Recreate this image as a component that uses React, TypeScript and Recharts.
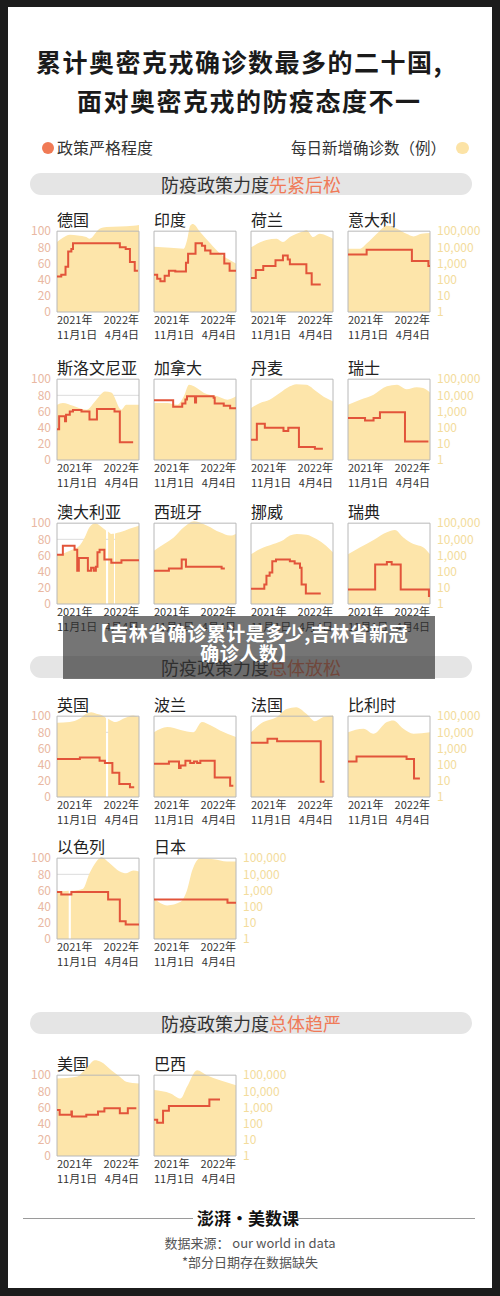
import React from 'react';
import { ComposedChart, Area, Line, XAxis, YAxis, ReferenceArea, CartesianGrid } from 'recharts';

type Pt = [number, number | null];

// ---------- axis ticks / labels ----------
const LEFT_TICKS = [0, 20, 40, 60, 80, 100];
const RIGHT_TICKS = [1, 10, 100, 1000, 10000, 100000];
const X_TICKS = [0, 154];
const X_TICK_LABELS: Record<number, string[]> = {
  0: ['2021年', '11月1日'],
  154: ['2022年', '4月4日'],
};

// ---------- data: [day since 2021-11-01, daily new cases] and [day, stringency] ----------
const DE_CASES: Pt[] = [[0, 21000], [11, 39000], [24, 60000], [39, 54000], [55, 43000], [61, 34000], [80, 140000], [93, 180000], [118, 193000], [143, 220000], [154, 245000]];
const DE_STR: Pt[] = [[0, 44], [8, 46], [16, 56], [21, 75], [27, 78], [30, 85], [118, 80], [129, 78], [137, 62], [146, 51], [152, 51]];

const IN_CASES: Pt[] = [[0, 11000], [31, 9500], [56, 8300], [62, 27000], [68, 220000], [73, 280000], [87, 87000], [106, 17000], [124, 4100], [140, 1800], [154, 1000]];
const IN_STR: Pt[] = [[0, 46], [6, 41], [12, 38], [20, 45], [28, 51], [40, 50], [60, 61], [64, 72], [78, 85], [90, 82], [96, 76], [106, 72], [132, 60], [142, 51], [154, 51]];

const NL_CASES: Pt[] = [[0, 10000], [29, 28000], [48, 34000], [60, 21000], [73, 43000], [98, 100000], [104, 120000], [117, 43000], [129, 68000], [141, 54000], [154, 34000]];
const NL_STR: Pt[] = [[0, 42], [9, 52], [23, 57], [46, 64], [60, 70], [69, 65], [73, 59], [104, 48], [114, 34], [131, 34]];

const IT_CASES: Pt[] = [[0, 8300], [23, 8300], [35, 17000], [54, 68000], [67, 176000], [73, 220000], [92, 140000], [110, 68000], [123, 47000], [138, 68000], [154, 76000]];
const IT_STR: Pt[] = [[0, 71], [35, 77], [120, 63], [151, 57], [154, 57]];

const SI_CASES: Pt[] = [[0, 2600], [11, 3400], [30, 2300], [55, 1300], [74, 5400], [90, 17500], [102, 15000], [121, 1300], [130, 2600], [154, 2600]];
const SI_STR: Pt[] = [[0, 38], [4, 54], [15, 48], [17, 56], [24, 60], [30, 62], [46, 60], [61, 50], [75, 63], [108, 60], [118, 22], [143, 22]];

const CA_CASES: Pt[] = [[0, 3400], [25, 3400], [44, 2600], [56, 8700], [66, 45000], [75, 36000], [94, 14000], [119, 8700], [138, 5400], [154, 8700]];
const CA_STR: Pt[] = [[0, 74], [36, 66], [53, 70], [59, 75], [62, 79], [77, 71], [79, 79], [112, 77], [114, 70], [131, 67], [143, 64], [154, 64]];

const DK_CASES: Pt[] = [[0, 1650], [17, 3400], [35, 5400], [54, 14000], [73, 36000], [85, 49000], [104, 45000], [123, 17500], [141, 6800], [154, 4200]];
const DK_STR: Pt[] = [[0, 25], [11, 45], [26, 40], [61, 36], [70, 40], [90, 16], [120, 14], [135, 14]];

const CH_CASES: Pt[] = [[0, 2600], [23, 5400], [48, 11000], [73, 36000], [92, 45000], [110, 24000], [129, 32000], [141, 28000], [154, 15000]];
const CH_STR: Pt[] = [[0, 52], [32, 49], [48, 52], [60, 59], [107, 23], [151, 23]];

const AU_CASES: Pt[] = [[0, 950], [24, 2000], [42, 4000], [52, 13000], [61, 56000], [72, 100000], [86, 51000], [92, 35000], [94, null], [96, 30000], [102, 21500], [107, 22000], [108, null], [109, 23000], [118, 27000], [136, 45000], [154, 70000]];
const AU_STR: Pt[] = [[0, 61], [11, 72], [33, 67], [38, 41], [41, 57], [58, 41], [64, 45], [69, 41], [73, 46], [76, 64], [80, 67], [89, 55], [102, 51], [121, 54], [154, 54]];

const ES_CASES: Pt[] = [[0, 2000], [19, 5100], [37, 13000], [56, 56000], [75, 133000], [100, 70000], [124, 27000], [143, 17000], [154, 21500]];
const ES_STR: Pt[] = [[0, 41], [28, 44], [52, 55], [60, 46], [127, 44], [133, 44]];

const NO_CASES: Pt[] = [[0, 1200], [17, 2500], [42, 5100], [61, 9100], [73, 17000], [86, 21500], [104, 19500], [123, 10500], [141, 4000], [154, 1550]];
const NO_STR: Pt[] = [[0, 19], [25, 24], [29, 35], [35, 39], [40, 53], [47, 55], [73, 53], [82, 50], [92, 45], [95, 24], [103, 13], [131, 13]];

const SE_CASES: Pt[] = [[0, 1200], [23, 3200], [48, 9000], [73, 27000], [88, 38000], [104, 13000], [123, 5100], [141, 3200], [154, 1200]];
const SE_STR: Pt[] = [[0, 18], [51, 49], [73, 52], [82, 49], [99, 18], [152, 10], [154, 10]];

const UK_CASES: Pt[] = [[0, 39000], [24, 43000], [42, 68000], [55, 140000], [64, 176000], [74, 140000], [90, 90000], [92, 75000], [94, null], [96, 70000], [111, 43000], [124, 68000], [143, 110000], [154, 87000]];
const UK_STR: Pt[] = [[0, 47], [43, 49], [80, 45], [90, 42], [104, 30], [117, 16], [137, 12], [145, 12]];

const PL_CASES: Pt[] = [[0, 10000], [25, 21000], [50, 14000], [74, 10000], [90, 43000], [106, 27000], [124, 13000], [154, 5100]];
const PL_STR: Pt[] = [[0, 41], [28, 44], [47, 36], [50, 39], [59, 45], [68, 42], [75, 44], [81, 42], [87, 45], [114, 24], [143, 14], [149, 14]];

const FR_CASES: Pt[] = [[0, 10000], [23, 43000], [48, 87000], [67, 280000], [85, 355000], [104, 140000], [120, 49000], [135, 87000], [154, 110000]];
const FR_STR: Pt[] = [[0, 67], [31, 72], [49, 69], [131, 19], [138, 19]];

const BE_CASES: Pt[] = [[0, 10000], [29, 16500], [48, 8100], [73, 43000], [85, 54000], [104, 16500], [123, 8100], [154, 10000]];
const BE_STR: Pt[] = [[0, 44], [16, 50], [110, 47], [124, 23], [135, 23]];

const IL_CASES: Pt[] = [[0, 830], [22, 950], [24, null], [26, 950], [49, 1300], [61, 11500], [74, 63000], [83, 115000], [99, 49000], [118, 15000], [130, 11500], [143, 17000], [154, 15000]];
const IL_STR: Pt[] = [[0, 58], [8, 55], [27, 58], [96, 49], [118, 22], [129, 18], [154, 18]];

const JP_CASES: Pt[] = [[0, 316], [25, 120], [50, 200], [62, 1050], [72, 18500], [87, 100000], [112, 87000], [137, 63000], [154, 63000]];
const JP_STR: Pt[] = [[0, 49], [138, 45], [154, 45]];

const US_CASES: Pt[] = [[0, 62000], [36, 79000], [55, 260000], [71, 840000], [83, 660000], [102, 204000], [118, 79000], [130, 39000], [154, 30000]];
const US_STR: Pt[] = [[0, 57], [5, 51], [27, 55], [28, 49], [55, 51], [77, 55], [89, 59], [118, 53], [133, 59], [149, 59]];

const BR_CASES: Pt[] = [[0, 12000], [31, 7400], [50, 3600], [62, 19000], [81, 204000], [99, 100000], [124, 49000], [154, 24000]];
const BR_STR: Pt[] = [[0, 45], [6, 41], [17, 56], [28, 62], [104, 70], [124, 70]];

const COUNTRIES: Record<string, { cases: Pt[]; str: Pt[] }> = {
  '德国': { cases: DE_CASES, str: DE_STR },
  '印度': { cases: IN_CASES, str: IN_STR },
  '荷兰': { cases: NL_CASES, str: NL_STR },
  '意大利': { cases: IT_CASES, str: IT_STR },
  '斯洛文尼亚': { cases: SI_CASES, str: SI_STR },
  '加拿大': { cases: CA_CASES, str: CA_STR },
  '丹麦': { cases: DK_CASES, str: DK_STR },
  '瑞士': { cases: CH_CASES, str: CH_STR },
  '澳大利亚': { cases: AU_CASES, str: AU_STR },
  '西班牙': { cases: ES_CASES, str: ES_STR },
  '挪威': { cases: NO_CASES, str: NO_STR },
  '瑞典': { cases: SE_CASES, str: SE_STR },
  '英国': { cases: UK_CASES, str: UK_STR },
  '波兰': { cases: PL_CASES, str: PL_STR },
  '法国': { cases: FR_CASES, str: FR_STR },
  '比利时': { cases: BE_CASES, str: BE_STR },
  '以色列': { cases: IL_CASES, str: IL_STR },
  '日本': { cases: JP_CASES, str: JP_STR },
  '美国': { cases: US_CASES, str: US_STR },
  '巴西': { cases: BR_CASES, str: BR_STR },
};

const GROUP_LOOSEN_LATER = [['德国', '印度', '荷兰', '意大利'], ['斯洛文尼亚', '加拿大', '丹麦', '瑞士'], ['澳大利亚', '西班牙', '挪威', '瑞典']];
const GROUP_LOOSEN = [['英国', '波兰', '法国', '比利时'], ['以色列', '日本']];
const GROUP_TIGHTEN = [['美国', '巴西']];

const TITLE_LINES = ['累计奥密克戎确诊数最多的二十国,', '面对奥密克戎的防疫态度不一'];
const LEGEND_LEFT = '政策严格程度';
const LEGEND_RIGHT = '每日新增确诊数（例）';
const SECTION_TITLES = [
  ['防疫政策力度', '先紧后松'],
  ['防疫政策力度', '总体放松'],
  ['防疫政策力度', '总体趋严'],
];
const BANNER_LINES = ['【吉林省确诊累计是多少,吉林省新冠', '确诊人数】'];

// ---------- layout ----------
const FONT = "'Noto Sans CJK SC', 'Noto Sans', sans-serif";
const COL_LEFT = [57, 154, 251, 348];
const ROW_TOP = [231, 379, 523, 716, 858, 1075];
const PILL_TOP = [173, 656, 1012];
const PLOT_H = 97; // y domain 0..120 -> box 0..100
const BOX_W = 82;
const LEFT_W = 40;
const RIGHT_W = 58;

const C_LINE = '#e2543a';
const C_AREA = '#fde5aa';
const C_LTICK = '#e9b8a2';
const C_RTICK = '#f3dc9c';

function XTick(props: any) {
  const { x, y, payload } = props;
  const lines = X_TICK_LABELS[payload.value] || ['', ''];
  const anchor = payload.value === 0 ? 'start' : 'end';
  return (
    <text x={x} y={y} textAnchor={anchor} fontSize={11} fill="#333">
      <tspan x={x} dy={12}>{lines[0]}</tspan>
      <tspan x={x} dy={14.5}>{lines[1]}</tspan>
    </text>
  );
}

function SmallChart({ name, left, top, showLeft, showRight }: { name: string; left: number; top: number; showLeft: boolean; showRight: boolean }) {
  const { cases, str } = COUNTRIES[name];
  const caseData = cases.map(([d, c]) => ({ d, c }));
  const strData = str.map(([d, s]) => ({ d, s }));
  const chartTop = top - (PLOT_H * 20) / 120;
  return (
    <>
      <div style={{ position: 'absolute', left, top: top - 23, fontSize: 16, lineHeight: '22px', color: '#222', whiteSpace: 'nowrap' }}>{name}</div>
      <div style={{ position: 'absolute', left: left - LEFT_W, top: chartTop }}>
        <ComposedChart width={LEFT_W + BOX_W + RIGHT_W} height={PLOT_H + 31} margin={{ top: 0, right: 0, bottom: 0, left: 0 }}>
          <CartesianGrid yAxisId="s" vertical={false} horizontalValues={[80]} stroke="#dddddd" />
          <XAxis dataKey="d" type="number" domain={[0, 154]} ticks={X_TICKS} allowDataOverflow axisLine={false} tickLine={false} tickSize={0} tickMargin={0} height={31} interval={0} tick={<XTick />} />
          <YAxis yAxisId="s" orientation="left" type="number" domain={[0, 120]} ticks={LEFT_TICKS} allowDataOverflow width={LEFT_W} axisLine={false} tickLine={false} tickSize={0} tickMargin={6} interval={0}
            tick={showLeft ? { fill: C_LTICK, fontSize: 12 } : false} />
          <YAxis yAxisId="c" orientation="right" type="number" scale="log" domain={[1, 1000000]} ticks={RIGHT_TICKS} allowDataOverflow width={RIGHT_W} axisLine={false} tickLine={false} tickSize={0} tickMargin={7} interval={0}
            tick={showRight ? { fill: C_RTICK, fontSize: 12 } : false} tickFormatter={(v: number) => v.toLocaleString('en-US')} />
          <Area yAxisId="c" data={caseData} dataKey="c" type="monotone" stroke="none" fill={C_AREA} fillOpacity={1} isAnimationActive={false} connectNulls={false} />
          <ReferenceArea yAxisId="s" x1={0} x2={154} y1={0} y2={100} fill="none" stroke="#b8b8b8" strokeWidth={1} ifOverflow="visible" />
          <Line yAxisId="s" data={strData} dataKey="s" type="stepAfter" stroke={C_LINE} strokeWidth={2} dot={false} isAnimationActive={false} />
        </ComposedChart>
      </div>
    </>
  );
}

function Pill({ top, title }: { top: number; title: string[] }) {
  return (
    <div style={{ position: 'absolute', left: 30, top, width: 442, height: 22, borderRadius: 11, background: '#e5e5e5', textAlign: 'center', fontSize: 18, lineHeight: '22px', color: '#333' }}>
      {title[0]}<span style={{ color: '#f07a58' }}>{title[1]}</span>
    </div>
  );
}

export default function App() {
  const groups = [GROUP_LOOSEN_LATER, GROUP_LOOSEN, GROUP_TIGHTEN];
  let rowIdx = 0;
  const charts: React.ReactNode[] = [];
  groups.forEach((g) => {
    g.forEach((row) => {
      const top = ROW_TOP[rowIdx];
      row.forEach((name, ci) => {
        charts.push(
          <SmallChart key={name} name={name} left={COL_LEFT[ci]} top={top} showLeft={ci === 0} showRight={ci === row.length - 1} />
        );
      });
      rowIdx += 1;
    });
  });

  return (
    <div style={{ position: 'absolute', left: 0, top: 0, width: 500, height: 1296, background: '#1c1c1c', fontFamily: FONT, overflow: 'hidden' }}>
      <div style={{ position: 'absolute', left: 8, top: 7, width: 484, height: 1281, background: '#ffffff' }} />
      <div style={{ position: 'absolute', left: 36, top: 44, fontSize: 25, letterSpacing: 1.5, fontWeight: 700, lineHeight: '34px', color: '#1a1a1a', whiteSpace: 'nowrap' }}>{TITLE_LINES[0]}</div>
      <div style={{ position: 'absolute', left: 77, top: 83, fontSize: 25, letterSpacing: 1.5, fontWeight: 700, lineHeight: '34px', color: '#1a1a1a', whiteSpace: 'nowrap' }}>{TITLE_LINES[1]}</div>

      <div style={{ position: 'absolute', left: 41.5, top: 141.5, width: 12.5, height: 12.5, borderRadius: '50%', background: '#f07a55' }} />
      <div style={{ position: 'absolute', left: 57, top: 136, fontSize: 16, lineHeight: '22px', color: '#333', whiteSpace: 'nowrap' }}>{LEGEND_LEFT}</div>
      <div style={{ position: 'absolute', right: 500 - 446, top: 136, fontSize: 15.5, lineHeight: '22px', color: '#333', whiteSpace: 'nowrap' }}>{LEGEND_RIGHT}</div>
      <div style={{ position: 'absolute', left: 456, top: 141.5, width: 12.5, height: 12.5, borderRadius: '50%', background: '#fce3a6' }} />

      {SECTION_TITLES.map((t, i) => <Pill key={i} top={PILL_TOP[i]} title={t} />)}

      {charts}

      <div style={{ position: 'absolute', left: 23, top: 1218, width: 170, height: 1, background: '#9a9a9a' }} />
      <div style={{ position: 'absolute', left: 297, top: 1218, width: 178, height: 1, background: '#9a9a9a' }} />
      <div style={{ position: 'absolute', left: 0, width: 496, top: 1206, textAlign: 'center', fontSize: 17, fontWeight: 700, lineHeight: '24px', color: '#111' }}>澎湃·美数课</div>
      <div style={{ position: 'absolute', left: 0, width: 500, top: 1233, textAlign: 'center', fontSize: 13, lineHeight: '20px', color: '#555' }}>数据来源： our world in data</div>
      <div style={{ position: 'absolute', left: 0, width: 500, top: 1252, textAlign: 'center', fontSize: 13, lineHeight: '20px', color: '#555' }}>*部分日期存在数据缺失</div>

      <div style={{ position: 'absolute', left: 63, top: 616, width: 372, height: 63, background: 'rgba(45,45,45,0.66)', zIndex: 10, boxSizing: 'border-box', paddingTop: 7, textAlign: 'center', color: '#fff', fontWeight: 700, fontSize: 19, lineHeight: '20px', letterSpacing: 0.5 }}>
        <div style={{ whiteSpace: 'nowrap' }}>{BANNER_LINES[0]}</div>
        <div style={{ whiteSpace: 'nowrap' }}>{BANNER_LINES[1]}</div>
      </div>
    </div>
  );
}
